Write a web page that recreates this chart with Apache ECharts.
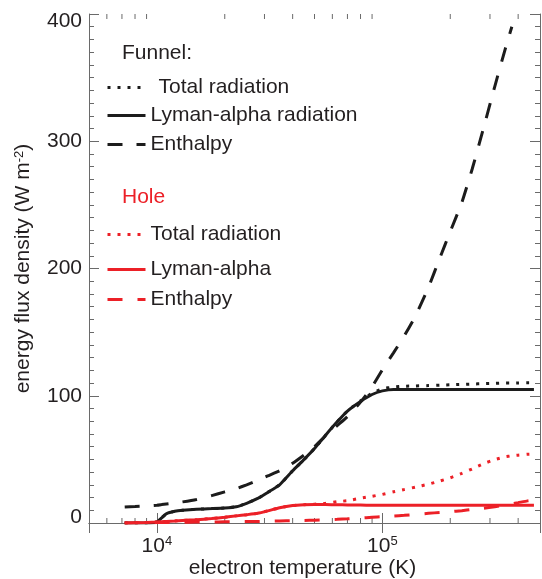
<!DOCTYPE html>
<html>
<head>
<meta charset="utf-8">
<script src="https://cdn.jsdelivr.net/npm/echarts@6/dist/echarts.min.js"></script>
<style>
    html, body { margin: 0; padding: 0; background: #fff; }
    #chart { width: 542px; height: 579px; }
</style>
</head>
<body>
<div id="chart"></div>
<script>
    // electron temperature (K)
    var temps = [7200, 8000, 9000, 10000, 10500, 11000, 12000, 13000, 15000, 17500,
        20000, 22500, 25000, 28000, 31000, 35000, 40000, 45000, 50000, 56000,
        63000, 70000, 80000, 90000, 100000, 112000, 125000, 140000, 160000, 180000,
        200000, 225000, 250000, 280000, 315000, 350000, 375000, 400000, 440000, 470000];

    // Funnel
    var funnelTotal = [0, 0, 0, 0.8, 4, 7.2, 9.2, 10, 10.8, 11.3,
        11.8, 12.8, 15.5, 19.3, 24, 30, 41, 50, 58.5, 69,
        79.5, 88, 96, 102, 105.5, 106.8, 107.5, 107.7, 108, 108.3,
        108.6, 108.9, 109.2, 109.5, 109.7, 110, 110, 110.1, 110.2, 110.2];
    var funnelLyman = [0, 0, 0, 0.8, 4, 7.2, 9.2, 10, 10.8, 11.3,
        11.8, 12.8, 15.5, 19.3, 24, 30, 41, 50, 58.5, 69,
        79.5, 88, 95.5, 101, 103.8, 105, 105, 105, 105, 105,
        105, 105, 105, 105, 105, 105, 105, 105, 105, 105];
    var funnelEnthalpy = [12.6, 13, 13.5, 14, 14.5, 15, 15.8, 16.6, 18.5, 21.5,
        24.5, 27, 30, 33.5, 37, 41, 47, 53.5, 60, 68.5,
        76.5, 83.5, 95, 107, 120.5, 133.7, 147, 162.5, 185, 208.5,
        229, 251.8, 278, 309.4, 343, 372, 390, null, null, null];

    // Hole
    var holeTotal = [0, 0.1, 0.4, 0.8, 1, 1.2, 1.6, 2, 2.6, 3.5,
        4.5, 5.6, 6.5, 7.6, 9.5, 12, 13.8, 14.4, 14.8, 15.5,
        16.8, 17.5, 19.5, 21, 22.5, 24.5, 26.3, 28.2, 30.5, 33,
        35.5, 39, 42.5, 46.5, 49.8, 52, 52.8, 53.3, 54, 54.2];
    var holeLyman = [0, 0.1, 0.4, 0.8, 1, 1.2, 1.6, 2, 2.6, 3.5,
        4.5, 5.6, 6.5, 7.6, 9.5, 12, 13.8, 14.4, 14.6, 14.5,
        14.3, 14.2, 14.1, 14, 14, 14, 14, 14, 14, 14,
        14, 14, 14, 14, 14, 14, 14, 14, 14, 14];
    var holeEnthalpy = [0, 0.1, 0.2, 0.3, 0.35, 0.4, 0.5, 0.6, 0.7, 0.8,
        0.9, 1, 1.1, 1.2, 1.4, 1.6, 1.8, 2, 2.2, 2.5,
        2.9, 3.3, 3.9, 4.5, 5, 5.5, 6, 6.7, 7.6, 8.3,
        8.9, 9.7, 10.6, 11.6, 12.8, 14.2, 15.1, 16, 17.4, 18];

    // minor ticks of the log axis
    var xMinorTicks = [6000, 7000, 8000, 9000, 20000, 30000, 40000, 50000, 60000, 70000,
        80000, 90000, 200000, 300000, 400000];

    var BLACK = '#1c1c1c';
    var RED = '#ec2027';
    var TEXT = '#231f20';
    var AXIS = '#6a6a6a';
    var FONT = '"Liberation Sans", Arial, Helvetica, sans-serif';
    var FS = 21;

    var legendNames = {
        funnelTotal: 'Total radiation',
        funnelLyman: 'Lyman-alpha radiation',
        funnelEnthalpy: 'Enthalpy',
        holeTotal: 'Total radiation',
        holeLyman: 'Lyman-alpha',
        holeEnthalpy: 'Enthalpy'
    };

    function pairs(values) {
        var out = [];
        for (var i = 0; i < temps.length; i++) {
            if (values[i] != null) out.push([temps[i], values[i]]);
        }
        return out;
    }

    function curve(name, values, color, type) {
        return {
            name: name,
            type: 'line',
            data: pairs(values),
            symbol: 'none',
            smooth: 0.15,
            silent: true,
            lineStyle: { color: color, width: 3, type: type, cap: 'butt' },
            itemStyle: { color: color }
        };
    }

    function legendRow(name, top, textPad) {
        return {
            left: 106,
            top: top,
            orient: 'vertical',
            padding: 0,
            itemWidth: 38,
            itemHeight: 14,
            selectedMode: false,
            // only the line sample, no marker
            itemStyle: { color: 'rgba(0,0,0,0)', borderWidth: 0, opacity: 0 },
            lineStyle: { width: 3 },
            data: [name],
            formatter: function (n) { return legendNames[n]; },
            textStyle: { fontSize: FS, color: TEXT, fontFamily: FONT, lineHeight: 20, padding: [0, 0, 0, textPad || 0] }
        };
    }

    var chart = echarts.init(document.getElementById('chart'));

    var option = {
        backgroundColor: '#fff',
        animation: false,
        grid: { left: 89, right: 2, top: 14, bottom: 56, outerBoundsMode: 'none', containLabel: false },
        textStyle: { fontFamily: FONT },
        graphic: [
            { type: 'text', left: 122, top: 43, style: { text: 'Funnel:', fontSize: FS, fill: TEXT, fontFamily: FONT } },
            { type: 'text', left: 122, top: 187, style: { text: 'Hole', fontSize: FS, fill: RED, fontFamily: FONT } }
        ],
        legend: [
            legendRow('funnelTotal', 77, 8),
            legendRow('funnelLyman', 105),
            legendRow('funnelEnthalpy', 134),
            legendRow('holeTotal', 224),
            legendRow('holeLyman', 259),
            legendRow('holeEnthalpy', 289)
        ],
        xAxis: [{
            type: 'log',
            logBase: 10,
            min: 5000,
            max: 500000,
            name: 'electron temperature (K)',
            nameLocation: 'middle',
            nameGap: 35,
            nameMoveOverlap: false,
            nameTextStyle: { fontSize: FS, color: TEXT, fontFamily: FONT, padding: [0, 24, 0, 0] },
            axisLine: { lineStyle: { color: AXIS, width: 1 } },
            axisTick: { inside: true, length: 10, lineStyle: { color: AXIS } },
            splitLine: { show: false },
            axisLabel: {
                margin: 12,
                formatter: function (v) {
                    var e = Math.round(Math.log(v) / Math.LN10);
                    if (Math.abs(Math.pow(10, e) - v) > 1e-6 * v) return '';
                    return '{b|10}{s|' + e + '}';
                },
                rich: {
                    b: { fontSize: FS, color: TEXT, fontFamily: FONT, lineHeight: 22 },
                    s: { fontSize: 13, color: TEXT, fontFamily: FONT, lineHeight: 13, verticalAlign: 'top' }
                }
            }
        }, {
            type: 'log',
            logBase: 10,
            min: 5000,
            max: 500000,
            position: 'top',
            axisLine: { lineStyle: { color: AXIS, width: 1 } },
            axisTick: { inside: true, length: 10, lineStyle: { color: AXIS } },
            axisLabel: { show: false },
            splitLine: { show: false }
        }],
        yAxis: [{
            type: 'value',
            min: 0,
            max: 400,
            interval: 100,
            name: 'energy flux density (W m{s|-2})',
            nameLocation: 'middle',
            nameGap: 55,
            nameTextStyle: {
                fontSize: FS, color: TEXT, fontFamily: FONT,
                rich: {
                    s: { fontSize: 13, color: TEXT, fontFamily: FONT, verticalAlign: 'top', lineHeight: 13 }
                }
            },
            axisLine: { show: true, lineStyle: { color: AXIS, width: 1 } },
            axisTick: { inside: true, length: 10, lineStyle: { color: AXIS } },
            minorTick: { show: true, splitNumber: 10, length: 5, lineStyle: { color: AXIS } },
            splitLine: { show: false },
            axisLabel: {
                margin: 7,
                fontSize: FS,
                color: TEXT,
                fontFamily: FONT,
                formatter: function (v) {
                    if (v === 400) return '{top|400}';
                    if (v === 0) return '{bot|0}';
                    return '' + v;
                },
                rich: {
                    top: { fontSize: FS, color: TEXT, fontFamily: FONT, padding: [14, 0, 0, 0] },
                    bot: { fontSize: FS, color: TEXT, fontFamily: FONT, padding: [0, 0, 12, 0] }
                }
            }
        }, {
            type: 'value',
            min: 0,
            max: 400,
            interval: 100,
            position: 'right',
            axisLine: { show: true, lineStyle: { color: AXIS, width: 1 } },
            axisTick: { inside: true, length: 10, lineStyle: { color: AXIS } },
            minorTick: { show: true, splitNumber: 10, length: 5, lineStyle: { color: AXIS } },
            splitLine: { show: false },
            axisLabel: { show: false }
        }],
        series: [
            curve('funnelEnthalpy', funnelEnthalpy, BLACK, [15, 14]),
            curve('funnelLyman', funnelLyman, BLACK, 'solid'),
            curve('funnelTotal', funnelTotal, BLACK, [3, 7]),
            curve('holeEnthalpy', holeEnthalpy, RED, [15, 15]),
            curve('holeLyman', holeLyman, RED, 'solid'),
            curve('holeTotal', holeTotal, RED, [3, 7]),
            {
                // minor ticks on the bottom and top frame
                type: 'custom',
                silent: true,
                xAxisIndex: 0,
                yAxisIndex: 0,
                data: xMinorTicks.map(function (v) { return [v, 0]; }),
                renderItem: function (params, api) {
                    var v = api.value(0);
                    var b = api.coord([v, 0]);
                    var t = api.coord([v, 400]);
                    var st = { stroke: AXIS, lineWidth: 1 };
                    return {
                        type: 'group',
                        children: [
                            { type: 'line', shape: { x1: b[0], y1: b[1], x2: b[0], y2: b[1] - 5 }, style: st },
                            { type: 'line', shape: { x1: t[0], y1: t[1], x2: t[0], y2: t[1] + 5 }, style: st }
                        ]
                    };
                }
            }
        ]
    };

    chart.setOption(option);
</script>
</body>
</html>
